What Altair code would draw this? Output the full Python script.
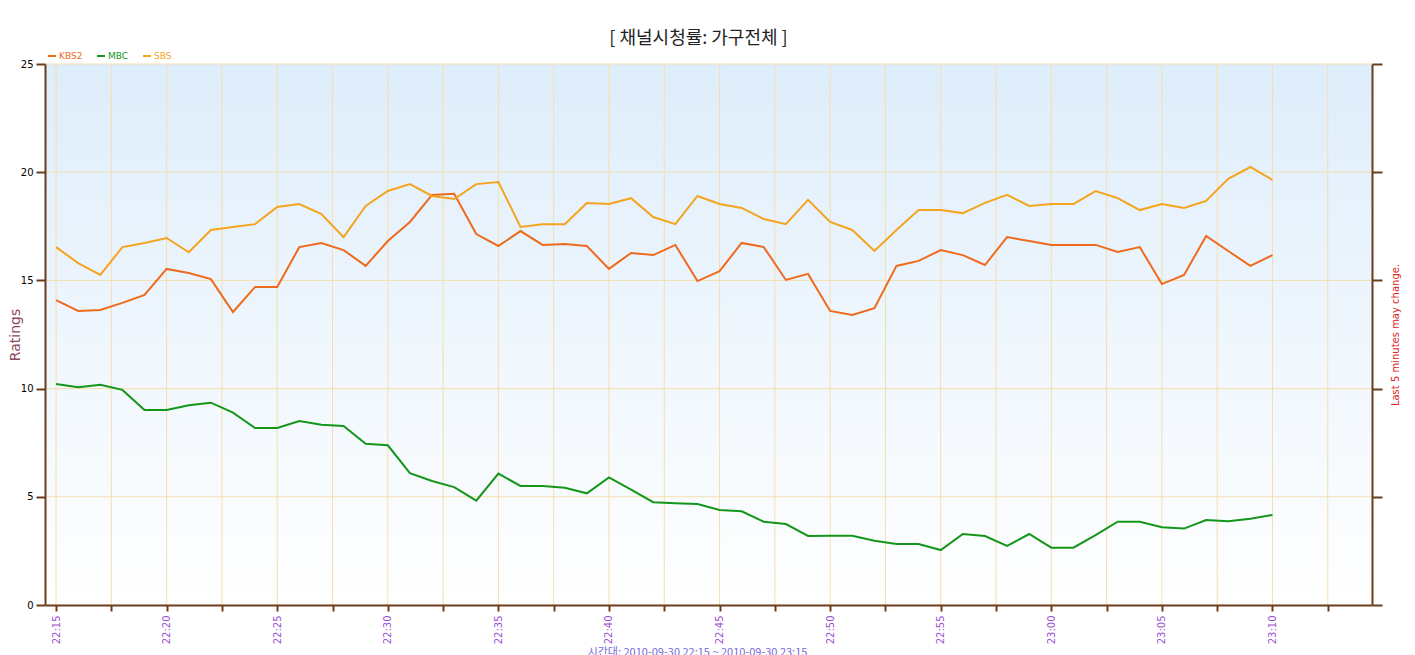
import altair as alt
import pandas as pd

times = ["22:15", "22:16", "22:17", "22:18", "22:19", "22:20", "22:21", "22:22", "22:23", "22:24",
         "22:25", "22:26", "22:27", "22:28", "22:29", "22:30", "22:31", "22:32", "22:33", "22:34",
         "22:35", "22:36", "22:37", "22:38", "22:39", "22:40", "22:41", "22:42", "22:43", "22:44",
         "22:45", "22:46", "22:47", "22:48", "22:49", "22:50", "22:51", "22:52", "22:53", "22:54",
         "22:55", "22:56", "22:57", "22:58", "22:59", "23:00", "23:01", "23:02", "23:03", "23:04",
         "23:05", "23:06", "23:07", "23:08", "23:09", "23:10"]

kbs2 = [14.09, 13.59, 13.63, 13.96, 14.33, 15.53, 15.34, 15.06, 13.54, 14.70,
        14.70, 16.54, 16.73, 16.40, 15.67, 16.82, 17.70, 18.95, 19.00, 17.14,
        16.59, 17.28, 16.64, 16.68, 16.59, 15.53, 16.27, 16.17, 16.64, 14.97,
        15.43, 16.73, 16.54, 15.02, 15.30, 13.59, 13.40, 13.72, 15.67, 15.90,
        16.40, 16.17, 15.71, 17.00, 16.82, 16.64, 16.64, 16.64, 16.31, 16.54,
        14.83, 15.25, 17.05, 16.36, 15.67, 16.17]

mbc = [10.21, 10.06, 10.18, 9.94, 9.01, 9.01, 9.23, 9.35, 8.89, 8.18,
       8.18, 8.50, 8.33, 8.27, 7.45, 7.38, 6.09, 5.73, 5.45, 4.82,
       6.07, 5.50, 5.50, 5.42, 5.16, 5.90, 5.33, 4.75, 4.70, 4.67,
       4.39, 4.33, 3.85, 3.74, 3.19, 3.20, 3.20, 2.97, 2.82, 2.82,
       2.54, 3.28, 3.19, 2.73, 3.28, 2.65, 2.65, 3.23, 3.85, 3.85,
       3.59, 3.53, 3.93, 3.87, 3.99, 4.16]

sbs = [16.54, 15.80, 15.25, 16.54, 16.73, 16.96, 16.30, 17.33, 17.47, 17.60,
       18.39, 18.53, 18.07, 17.00, 18.44, 19.13, 19.45, 18.90, 18.76, 19.45,
       19.55, 17.47, 17.60, 17.60, 18.58, 18.53, 18.80, 17.93, 17.60, 18.90,
       18.53, 18.35, 17.84, 17.60, 18.72, 17.70, 17.33, 16.36, 17.33, 18.25,
       18.25, 18.11, 18.58, 18.95, 18.44, 18.53, 18.53, 19.13, 18.80, 18.25,
       18.53, 18.35, 18.67, 19.69, 20.24, 19.64]

series_names = ["KBS2", "MBC", "SBS"]
series_colors = ["#ee6a1c", "#14961a", "#f5a41e"]
y_ticks = [0, 5, 10, 15, 20, 25]
date = "2010-09-30"

rows = []
for name, vals in zip(series_names, [kbs2, mbc, sbs]):
    for t, v in zip(times, vals):
        rows.append({"series": name, "time": f"{date}T{t}:00", "rating": v})
df = pd.DataFrame(rows)

# tick positions every 2.5 minutes from 22:15 to 23:12:30
tick_vals = []
tick_iso = []
for k in range(24):
    total_sec = (22 * 60 + 15) * 60 + k * 150
    h, rem = divmod(total_sec, 3600)
    m, s = divmod(rem, 60)
    tick_vals.append(alt.DateTime(year=2010, month=9, date=30, hours=h, minutes=m, seconds=s))
    tick_iso.append(f"{date}T{h:02d}:{m:02d}:{s:02d}")

brown = "#6b3d1c"
grid_col = "#f4dfae"

x_scale = alt.Scale(domain=[
    alt.DateTime(year=2010, month=9, date=30, hours=22, minutes=14, seconds=30),
    alt.DateTime(year=2010, month=9, date=30, hours=23, minutes=14, seconds=30),
])
y_scale = alt.Scale(domain=[0, 25], nice=False)

x_axis = alt.Axis(
    values=tick_vals,
    labelExpr="(minutes(datum.value) % 5 == 0 && seconds(datum.value) == 0) ? timeFormat(datum.value, '%H:%M') : ''",
    labelAngle=270,
    labelAlign="right",
    labelBaseline="middle",
    labelColor="#9a4fd2",
    labelFontSize=10,
    labelPadding=4,
    labelOverlap=False,
    labelFlush=False,
    tickColor=brown,
    tickWidth=2,
    tickSize=6,
    domainColor=brown,
    domainWidth=2,
    grid=False,
    zindex=1,
    title="시간대: 2010-09-30 22:15 ~ 2010-09-30 23:15",
    titleColor="#7a6ad8",
    titleFontSize=11,
    titleFontWeight="normal",
    titleFont="Noto Sans CJK KR",
    titlePadding=3,
    titleX=652,
)

bg = alt.Chart(pd.DataFrame({"bg": [0]})).mark_rect(
    color=alt.LinearGradient(
        gradient="linear", x1=0, y1=0, x2=0, y2=1,
        stops=[alt.GradientStop(offset=0, color="#deedfb"), alt.GradientStop(offset=1, color="#ffffff")],
    ),
).encode(x=alt.value(0), x2=alt.value("width"), y=alt.value(0), y2=alt.value("height"))

vgrid = alt.Chart(pd.DataFrame({"t": tick_iso})).mark_rule(color=grid_col, strokeWidth=1).encode(
    x=alt.X("t:T", scale=x_scale, axis=x_axis)
)
hgrid = alt.Chart(pd.DataFrame({"v": y_ticks[1:]})).mark_rule(color=grid_col, strokeWidth=1).encode(
    y=alt.Y("v:Q", scale=y_scale, axis=None)
)

lines = alt.Chart(df).mark_line(strokeWidth=2).encode(
    x=alt.X("time:T", scale=x_scale, axis=x_axis),
    y=alt.Y(
        "rating:Q",
        scale=y_scale,
        axis=alt.Axis(
            orient="left",
            values=y_ticks,
            tickColor=brown,
            tickWidth=2,
            tickSize=9,
            domainColor=brown,
            domainWidth=2,
            labelColor="#000000",
            labelFontSize=10,
            labelPadding=3,
            grid=False,
            zindex=1,
            title="Ratings",
            titleColor="#8b4a62",
            titleFontSize=14,
            titleFontWeight="normal",
            titleAngle=270,
            titleBaseline="bottom",
            titleX=-23,
        ),
    ),
    color=alt.Color(
        "series:N",
        scale=alt.Scale(domain=series_names, range=series_colors),
        legend=alt.Legend(
            orient="none",
            legendX=2,
            legendY=-13,
            direction="horizontal",
            title=None,
            symbolType="stroke",
            symbolStrokeWidth=2,
            symbolSize=64,
            labelFontSize=9,
            labelOffset=2,
            columnPadding=10,
            labelColor=alt.ExprRef(expr="datum.value == 'KBS2' ? '#ee6a1c' : (datum.value == 'MBC' ? '#14961a' : '#f5a41e')"),
        ),
    ),
)

right = alt.Chart(df).mark_line(opacity=0).encode(
    x=alt.X("time:T", scale=x_scale, axis=x_axis),
    y=alt.Y(
        "rating:Q",
        scale=y_scale,
        axis=alt.Axis(
            orient="right",
            values=y_ticks,
            labels=False,
            tickColor=brown,
            tickWidth=2,
            tickSize=10,
            domainColor=brown,
            domainWidth=2,
            grid=False,
            zindex=1,
            title="Last 5 minutes may change.",
            titleColor="#e02424",
            titleFontSize=10,
            titleFontWeight="normal",
            titleAngle=270,
            titlePadding=17,
        ),
    ),
    detail="series:N",
)

chart = alt.layer(bg, vgrid, hgrid, lines, right).resolve_axis(y="independent").properties(
    width=1327,
    height=541,
    autosize=alt.AutoSizeParams(type="none"),
    padding={"left": 37, "top": 56, "right": 30, "bottom": 52},
    title=alt.TitleParams(
        "[ 채널시청률: 가구전체 ]",
        font="Noto Sans CJK KR",
        fontSize=18,
        fontWeight="normal",
        color="#222222",
        offset=3,
        dx=-10,
    ),
).configure(font="DejaVu Sans").configure_view(stroke=None)

chart.save("out.html", embed_options={"renderer": "svg", "actions": False})
